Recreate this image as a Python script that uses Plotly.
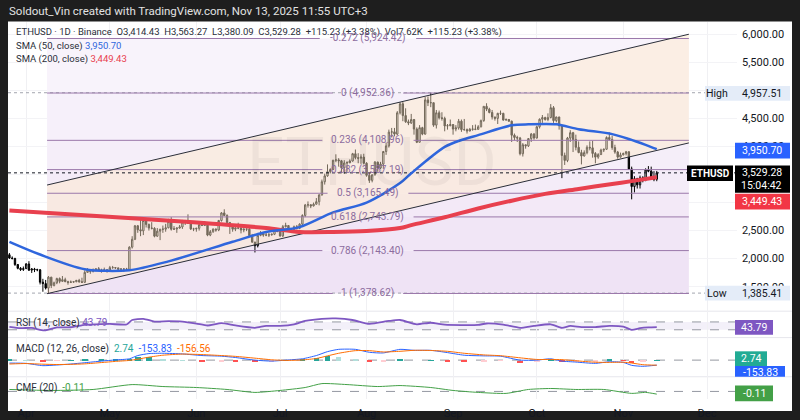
import plotly.graph_objects as go
import pandas as pd

W, H = 800, 420
def px(x): return x / W
def py(y): return 1 - y / H

# ---------------- data ----------------
dates = pd.date_range("2025-03-26", "2025-11-13", freq="D")
opens = [2070, 2010, 2003, 1895, 1827, 1805,
         1822, 1905, 1795, 1815, 1805, 1800, 1580, 1555, 1475, 1670, 1520, 1570, 1645, 1595, 1625, 1590, 1577, 1583, 1588, 1613, 1587, 1578, 1755, 1795, 1770, 1785, 1820, 1792, 1799, 1800,
         1795, 1840, 1840, 1835, 1810, 1815, 1815, 1810, 2205, 2345, 2585, 2515, 2495, 2680, 2610, 2545, 2540, 2400, 2490, 2525, 2525, 2550, 2660, 2525, 2530, 2545, 2565, 2655, 2680, 2630, 2530,
         2530, 2540, 2605, 2590, 2610, 2420, 2480, 2525, 2510, 2680, 2815, 2770, 2645, 2580, 2525, 2545, 2545, 2510, 2525, 2525, 2410, 2295, 2230, 2415, 2445, 2420, 2420, 2425, 2435, 2500,
         2485, 2405, 2570, 2590, 2505, 2515, 2570, 2540, 2615, 2770, 2955, 2960, 2940, 2970, 3015, 3135, 3370, 3475, 3550, 3590, 3755, 3760, 3745, 3620, 3705, 3710, 3740, 3870, 3800, 3790, 3810,
         3700, 3485, 3395, 3495, 3720, 3615, 3685, 3910, 4010, 4255, 4260, 4220, 4600, 4760, 4550, 4440, 4420, 4480, 4310, 4075, 4335, 4220, 4830, 4780, 4780, 4380, 4600, 4510, 4500, 4365, 4370,
         4390, 4310, 4330, 4450, 4300, 4300, 4275, 4305, 4310, 4305, 4350, 4460, 4715, 4665, 4605, 4525, 4500, 4590, 4590, 4470, 4480, 4450, 4200, 4160, 4150, 3870, 4030, 4010, 4140, 4220,
         4150, 4350, 4485, 4515, 4480, 4515, 4690, 4460, 4525, 4370, 3840, 3750, 4150, 4245, 4125, 3985, 3890, 3830, 3890, 3985, 3975, 3875, 3810, 3855, 3935, 3950, 4160, 4125, 3980, 3900, 3810,
         3850, 3875, 3905, 3600, 3285, 3425, 3315, 3440, 3400, 3580, 3560, 3420, 3414.43]
highs = [2100, 2040, 2015, 1905, 1850, 1860,
         1920, 1955, 1830, 1835, 1820, 1815, 1640, 1620, 1690, 1675, 1590, 1660, 1665, 1690, 1660, 1605, 1610, 1600, 1620, 1640, 1660, 1790, 1830, 1800, 1825, 1830, 1850, 1820, 1840, 1810,
         1870, 1870, 1845, 1840, 1830, 1825, 1835, 2220, 2400, 2600, 2600, 2740, 2730, 2720, 2625, 2650, 2560, 2545, 2530, 2590, 2620, 2710, 2740, 2580, 2555, 2600, 2690, 2690, 2790, 2660, 2550,
         2550, 2610, 2660, 2670, 2640, 2510, 2540, 2540, 2690, 2830, 2880, 2790, 2650, 2590, 2560, 2640, 2570, 2540, 2540, 2545, 2440, 2300, 2420, 2490, 2460, 2480, 2460, 2445, 2510, 2525,
         2500, 2600, 2640, 2595, 2530, 2590, 2600, 2630, 2790, 2975, 3020, 2970, 3000, 3080, 3150, 3410, 3515, 3680, 3610, 3760, 3860, 3790, 3760, 3755, 3735, 3770, 3885, 3945, 3880, 3860, 3870,
         3720, 3530, 3500, 3740, 3730, 3725, 3920, 4070, 4300, 4330, 4330, 4630, 4790, 4790, 4680, 4480, 4580, 4490, 4340, 4380, 4350, 4880, 4890, 4957.51, 4780, 4650, 4640, 4610, 4530, 4400, 4480,
         4400, 4380, 4490, 4480, 4490, 4320, 4330, 4380, 4390, 4380, 4480, 4720, 4770, 4690, 4650, 4530, 4600, 4640, 4600, 4500, 4490, 4460, 4230, 4190, 4170, 4060, 4030, 4150, 4240, 4240,
         4370, 4500, 4560, 4530, 4590, 4755, 4720, 4530, 4530, 4390, 3890, 4170, 4290, 4260, 4210, 4090, 3940, 3930, 4020, 4090, 4100, 3900, 3880, 3960, 3960, 4180, 4250, 4190, 4030, 3920, 3890,
         3890, 3920, 3915, 3640, 3470, 3440, 3480, 3470, 3610, 3650, 3640, 3560, 3563.27]
lows = [1995, 1985, 1870, 1810, 1780, 1780,
        1815, 1780, 1745, 1760, 1775, 1540, 1410, 1450, 1385.41, 1475, 1505, 1545, 1560, 1590, 1580, 1535, 1565, 1570, 1580, 1570, 1565, 1570, 1750, 1730, 1755, 1780, 1780, 1750, 1780, 1750,
        1790, 1820, 1815, 1800, 1775, 1765, 1780, 1805, 2180, 2330, 2460, 2400, 2420, 2555, 2500, 2520, 2380, 2390, 2330, 2460, 2480, 2540, 2500, 2510, 2460, 2535, 2530, 2600, 2620, 2510, 2490,
        2480, 2500, 2585, 2590, 2400, 2400, 2460, 2480, 2490, 2660, 2760, 2620, 2440, 2480, 2490, 2525, 2450, 2470, 2490, 2390, 2280, 2110, 2200, 2400, 2390, 2400, 2385, 2410, 2420, 2470,
        2390, 2385, 2555, 2480, 2490, 2500, 2520, 2525, 2600, 2740, 2910, 2900, 2930, 2965, 2950, 3125, 3320, 3460, 3520, 3580, 3720, 3640, 3520, 3510, 3550, 3700, 3730, 3770, 3700, 3690, 3680,
        3460, 3350, 3360, 3480, 3550, 3595, 3600, 3850, 3980, 4160, 4180, 4200, 4570, 4450, 4420, 4380, 4400, 4210, 4060, 4070, 4200, 4210, 4720, 4700, 4350, 4320, 4480, 4460, 4270, 4300, 4360,
        4210, 4270, 4300, 4260, 4280, 4230, 4270, 4280, 4290, 4300, 4340, 4440, 4630, 4590, 4480, 4460, 4400, 4560, 4460, 4460, 4440, 4080, 4110, 4080, 3840, 3820, 3960, 3990, 4080, 4120,
        4140, 4320, 4420, 4460, 4450, 4500, 4420, 4430, 4300, 3435, 3670, 3720, 4080, 3900, 3930, 3880, 3680, 3820, 3860, 3930, 3800, 3700, 3780, 3850, 3900, 3940, 4110, 3940, 3870, 3780, 3800,
        3840, 3840, 3580, 3057, 3180, 3250, 3250, 3360, 3380, 3540, 3410, 3380, 3380.09]
closes = [2010, 2003, 1895, 1827, 1805, 1822,
          1905, 1795, 1815, 1805, 1800, 1580, 1555, 1475, 1670, 1520, 1570, 1645, 1595, 1625, 1590, 1577, 1583, 1588, 1613, 1587, 1578, 1755, 1795, 1770, 1785, 1820, 1792, 1799, 1800, 1795,
          1840, 1840, 1835, 1810, 1815, 1815, 1810, 2205, 2345, 2585, 2515, 2495, 2680, 2610, 2545, 2540, 2400, 2490, 2525, 2525, 2550, 2660, 2525, 2530, 2545, 2565, 2655, 2680, 2630, 2530, 2530,
          2540, 2605, 2590, 2610, 2420, 2480, 2525, 2510, 2680, 2815, 2770, 2645, 2580, 2525, 2545, 2545, 2510, 2525, 2525, 2410, 2295, 2230, 2415, 2445, 2420, 2420, 2425, 2435, 2500, 2485,
          2405, 2570, 2590, 2505, 2515, 2570, 2540, 2615, 2770, 2955, 2960, 2940, 2970, 3015, 3135, 3370, 3475, 3550, 3590, 3755, 3760, 3745, 3620, 3705, 3710, 3740, 3870, 3800, 3790, 3810, 3700,
          3485, 3395, 3495, 3720, 3615, 3685, 3910, 4010, 4255, 4260, 4220, 4600, 4760, 4550, 4440, 4420, 4480, 4310, 4075, 4335, 4220, 4830, 4780, 4780, 4380, 4600, 4510, 4500, 4365, 4370, 4390,
          4310, 4330, 4450, 4300, 4300, 4275, 4305, 4310, 4305, 4350, 4460, 4715, 4665, 4605, 4525, 4500, 4590, 4590, 4470, 4480, 4450, 4200, 4160, 4150, 3870, 4030, 4010, 4140, 4220, 4150,
          4350, 4485, 4515, 4480, 4515, 4690, 4460, 4525, 4370, 3840, 3750, 4150, 4245, 4125, 3985, 3890, 3830, 3890, 3985, 3975, 3875, 3810, 3855, 3935, 3950, 4160, 4125, 3980, 3900, 3810, 3850,
          3875, 3905, 3600, 3285, 3425, 3315, 3440, 3400, 3580, 3560, 3420, 3414.43, 3529.28]

sma50_dates = ["2025-03-26", "2025-04-06", "2025-04-22", "2025-05-08", "2025-05-22", "2025-06-14", "2025-06-26",
               "2025-07-08", "2025-07-20", "2025-08-01", "2025-08-13", "2025-08-17", "2025-08-29", "2025-09-04",
               "2025-09-10", "2025-09-22", "2025-09-28", "2025-10-08", "2025-10-16", "2025-10-28", "2025-11-03",
               "2025-11-09", "2025-11-13"]
sma50_vals = [2300, 2073, 1812, 1794, 1951, 2300, 2475, 2562, 2824, 2998, 3347, 3522, 3993, 4115, 4202, 4377,
              4394, 4394, 4307, 4220, 4133, 4028, 3950.70]
sma200_dates = ["2025-03-26", "2025-05-09", "2025-05-31", "2025-06-26", "2025-07-08", "2025-07-20", "2025-08-01",
                "2025-08-13", "2025-08-17", "2025-08-29", "2025-09-10", "2025-09-22", "2025-10-04", "2025-10-16",
                "2025-10-28", "2025-11-04", "2025-11-13"]
sma200_vals = [2859, 2719, 2649, 2545, 2475, 2475, 2492, 2545, 2597, 2737, 2894, 3033, 3155, 3243, 3330, 3382, 3449.43]

fib_levels = ["-0.272", "0", "0.236", "0.382", "0.5", "0.618", "0.786", "1"]
fib_prices = [5924.42, 4952.36, 4108.96, 3587.19, 3165.49, 2743.79, 2143.40, 1378.62]
fib_start, fib_end = "2025-04-08 12:00", "2025-11-24 12:00"
channel_upper = [3312, 6000]
channel_lower = [1375, 4063]

rsi_dates = ["2025-03-26", "2025-03-30", "2025-04-03", "2025-04-06", "2025-04-08", "2025-04-12", "2025-04-17",
             "2025-04-22", "2025-04-26", "2025-05-01", "2025-05-07", "2025-05-09", "2025-05-13", "2025-05-17",
             "2025-05-22", "2025-05-27", "2025-06-01", "2025-06-05", "2025-06-10", "2025-06-15", "2025-06-22",
             "2025-06-26", "2025-07-01", "2025-07-06", "2025-07-10", "2025-07-16", "2025-07-21", "2025-07-27",
             "2025-08-02", "2025-08-09", "2025-08-13", "2025-08-19", "2025-08-24", "2025-08-29", "2025-09-04",
             "2025-09-10", "2025-09-13", "2025-09-19", "2025-09-25", "2025-09-30", "2025-10-06", "2025-10-10",
             "2025-10-13", "2025-10-17", "2025-10-22", "2025-10-27", "2025-11-01", "2025-11-04", "2025-11-07",
             "2025-11-10", "2025-11-13"]
rsi_vals = [45, 38, 40, 30, 27, 42, 43, 55, 58, 60, 57, 80, 86, 72, 74, 72, 62, 52, 64, 52, 40, 50, 50, 58, 75,
            86, 88, 80, 60, 75, 80, 58, 66, 56, 54, 55, 62, 56, 40, 50, 58, 40, 50, 44, 44, 50, 46, 30, 38, 42, 43.79]

macd_dates = ["2025-03-26", "2025-04-01", "2025-04-07", "2025-04-12", "2025-04-17", "2025-04-22", "2025-04-28",
              "2025-05-03", "2025-05-08", "2025-05-11", "2025-05-15", "2025-05-20", "2025-05-27", "2025-06-03",
              "2025-06-10", "2025-06-15", "2025-06-22", "2025-06-28", "2025-07-03", "2025-07-09", "2025-07-14",
              "2025-07-18", "2025-07-22", "2025-07-28", "2025-08-02", "2025-08-07", "2025-08-13", "2025-08-18",
              "2025-08-24", "2025-08-30", "2025-09-05", "2025-09-12", "2025-09-18", "2025-09-25", "2025-10-01",
              "2025-10-06", "2025-10-10", "2025-10-15", "2025-10-22", "2025-10-27", "2025-11-01", "2025-11-04",
              "2025-11-08", "2025-11-13"]
macd_vals = [-90, -100, -170, -150, -120, -80, -30, 5, 40, 140, 200, 210, 190, 140, 120, 80, 0, -30, 0, 40,
             140, 260, 330, 330, 240, 220, 330, 300, 300, 230, 150, 130, 120, 0, 0, 40, -30, -60, -100, -50,
             -70, -160, -190, -153.83]
signal_vals = [-120, -105, -125, -135, -130, -115, -75, -40, -10, 30, 90, 150, 185, 170, 140, 115, 60, 10, -10, 5,
               50, 130, 210, 290, 290, 250, 270, 300, 295, 270, 210, 160, 135, 70, 20, 20, 15, -20, -65, -70,
               -65, -90, -140, -156.56]

cmf_dates = ["2025-03-26", "2025-04-10", "2025-04-25", "2025-05-09", "2025-05-20", "2025-06-01", "2025-06-12",
             "2025-06-22", "2025-07-01", "2025-07-10", "2025-07-16", "2025-07-25", "2025-08-05", "2025-08-13",
             "2025-08-24", "2025-09-01", "2025-09-10", "2025-09-20", "2025-09-28", "2025-10-06", "2025-10-15",
             "2025-10-25", "2025-11-04", "2025-11-09", "2025-11-13"]
cmf_vals = [0.08, 0.04, 0.08, 0.28, 0.2, 0.16, 0.08, -0.04, 0.04, 0.16, 0.32, 0.28, 0.2, 0.24, 0.16, 0.04,
            -0.04, -0.08, 0.08, 0.12, 0.08, 0.08, -0.08, -0.04, -0.11]

month_ticks = ["2025-04-01", "2025-05-01", "2025-06-01", "2025-07-01", "2025-08-01", "2025-09-01",
               "2025-10-01", "2025-11-01", "2025-12-01"]
month_labels = ["Apr", "May", "Jun", "Jul", "Aug", "Sep", "Oct", "Nov", "Dec"]
price_ticks = [1500, 2000, 2500, 3000, 3500, 4000, 4500, 5000, 5500, 6000]

assert len(dates) == len(opens) == len(highs) == len(lows) == len(closes)

# ---------------- figure ----------------
FONT = "Roboto"
DARK = "#131722"
X0, X1 = "2025-03-25 12:00", "2025-12-11 18:00"
fig = go.Figure()

# channel fill
fig.add_trace(go.Scatter(x=[fib_start, fib_end, fib_end, fib_start, fib_start],
                         y=[channel_upper[0], channel_upper[1], channel_lower[1], channel_lower[0], channel_upper[0]],
                         fill="toself", fillcolor="rgba(255,232,200,0.45)", line=dict(width=0),
                         mode="lines", hoverinfo="skip", showlegend=False))
# high / low / last dotted lines
for val, col in [(4957.51, "#a3a6af"), (1385.41, "#a3a6af"), (3529.28, "#131722")]:
    fig.add_trace(go.Scatter(x=[X0, X1], y=[val, val], mode="lines",
                             line=dict(color=col, width=1, dash="dot"), hoverinfo="skip", showlegend=False))
# fib level lines with gap for label
t0, t1 = pd.Timestamp(fib_start), pd.Timestamp(fib_end)
center = t0 + (t1 - t0) / 2
fx, fy = [], []
fib_texts = []
for lv, pr in zip(fib_levels, fib_prices):
    txt = f"{lv} ({pr:,.2f})"
    fib_texts.append(txt)
    half = pd.Timedelta(days=(len(txt) * 5.2 / 2 + 4) / 2.79)
    fx += [t0, center - half, None, center + half, t1, None]
    fy += [pr, pr, None, pr, pr, None]
fig.add_trace(go.Scatter(x=fx, y=fy, mode="lines", line=dict(color="#9a78aa", width=1),
                         hoverinfo="skip", showlegend=False, connectgaps=False))
# channel border lines
for pair in (channel_upper, channel_lower):
    fig.add_trace(go.Scatter(x=[fib_start, fib_end], y=pair, mode="lines",
                             line=dict(color="#2a2e39", width=1), hoverinfo="skip", showlegend=False))
# SMAs
fig.add_trace(go.Scatter(x=sma200_dates, y=sma200_vals, mode="lines", line=dict(color="#e8404e", width=4, shape="spline", smoothing=0.8),
                         hoverinfo="skip", showlegend=False))
fig.add_trace(go.Scatter(x=sma50_dates, y=sma50_vals, mode="lines", line=dict(color="#2f66dd", width=2.5, shape="spline", smoothing=0.8),
                         hoverinfo="skip", showlegend=False))
# candles
fig.add_trace(go.Candlestick(x=dates, open=opens, high=highs, low=lows, close=closes,
                             increasing=dict(line=dict(color="#000000", width=1), fillcolor="#ffffff"),
                             decreasing=dict(line=dict(color="#000000", width=1), fillcolor="#000000"),
                             whiskerwidth=0, hoverinfo="skip", showlegend=False))

# RSI
fig.add_trace(go.Scatter(x=rsi_dates, y=rsi_vals, xaxis="x2", yaxis="y2", mode="lines",
                         line=dict(color="#7e57c2", width=1.8, shape="spline", smoothing=0.6),
                         hoverinfo="skip", showlegend=False))
# MACD
hist = [m - s for m, s in zip(macd_vals, signal_vals)]
hcol = []
for i, h in enumerate(hist):
    prev = hist[i - 1] if i else h
    if h >= 0:
        hcol.append("#26a69a" if h >= prev else "#b2dfdb")
    else:
        hcol.append("#ff5252" if h <= prev else "#ffcdd2")
fig.add_trace(go.Bar(x=macd_dates, y=hist, xaxis="x3", yaxis="y3", marker=dict(color=hcol, line=dict(width=0)),
                     width=2 * 86400000, hoverinfo="skip", showlegend=False))
fig.add_trace(go.Scatter(x=macd_dates, y=macd_vals, xaxis="x3", yaxis="y3", mode="lines",
                         line=dict(color="#2962ff", width=1, shape="spline", smoothing=0.6), hoverinfo="skip", showlegend=False))
fig.add_trace(go.Scatter(x=macd_dates, y=signal_vals, xaxis="x3", yaxis="y3", mode="lines",
                         line=dict(color="#ff6d00", width=1, shape="spline", smoothing=0.6), hoverinfo="skip", showlegend=False))
# CMF
fig.add_trace(go.Scatter(x=cmf_dates, y=cmf_vals, xaxis="x4", yaxis="y4", mode="lines",
                         line=dict(color="#43a047", width=1, shape="spline", smoothing=0.6), hoverinfo="skip", showlegend=False))

# ---------------- shapes ----------------
shapes = []
shapes.append(dict(type="rect", xref="paper", yref="paper", x0=px(8), x1=px(792), y0=0, y1=py(22),
                   fillcolor="#ffffff", line=dict(width=0), layer="below"))
fib_fills = ["#f8f3fb", "#f6f0fa", "#f5eef9", "#f4ecf8", "#f3e9f7", "#f1e6f6", "#efe3f5"]
for i, c in enumerate(fib_fills):
    shapes.append(dict(type="rect", xref="x", yref="y", x0=fib_start, x1=fib_end,
                       y0=fib_prices[i + 1], y1=fib_prices[i], fillcolor=c, line=dict(width=0), layer="between"))
for yy in (318, 345, 385):
    shapes.append(dict(type="line", xref="paper", yref="paper", x0=px(8), x1=px(792), y0=py(yy), y1=py(yy),
                       line=dict(color="#e6e6ec", width=1), layer="between"))
shapes.append(dict(type="rect", xref="paper", yref="y2", x0=px(8), x1=px(737), y0=30, y1=70,
                   fillcolor="rgba(126,87,194,0.09)", line=dict(width=0), layer="between"))
for ref, v in (("y2", 70), ("y2", 30), ("y3", 0), ("y4", 0)):
    shapes.append(dict(type="line", xref="paper", yref=ref, x0=px(8), x1=px(737), y0=v, y1=v,
                       line=dict(color="#9598a1", width=1, dash="dash"), layer="between"))
# right-side value boxes
boxes = [(705, 790, 88, 103, "#e4ecf8"), (735, 790, 146, 162, "#2962ff"), (687, 733, 169, 185, "#000000"),
         (735, 790, 169, 197, "#000000"), (735, 790, 198, 214, "#f23645"), (705, 790, 292, 307, "#e4ecf8"),
         (735, 773, 327, 342, "#7e57c2"), (735, 785, 374, 385, "#2962ff"), (735, 767, 359, 374, "#22ab94"),
         (735, 773, 394, 410, "#43a047")]
for x0, x1, y0, y1, c in boxes:
    shapes.append(dict(type="rect", xref="paper", yref="paper", x0=px(x0), x1=px(x1), y0=py(y1), y1=py(y0),
                       fillcolor=c, line=dict(width=0), layer="above"))

# ---------------- annotations ----------------
ann = []
def text(x, y, s, size=10, color=DARK, anchor="left", ref=("paper", "paper"), family=FONT, **kw):
    d = dict(x=x, y=y, xref=ref[0], yref=ref[1], text=s, showarrow=False, xanchor=anchor, yanchor="middle",
             font=dict(family=family, size=size, color=color))
    d.update(kw)
    ann.append(d)

NB = "\u00a0"
text(px(7), py(11), "Soldout_Vin created with TradingView.com, Nov 13, 2025 11:55 UTC+3", size=11.5, color="#e2e2e2")
text(px(14), py(33), f"ETHUSD · 1D · Binance{NB*2}O3,414.43{NB*2}H3,563.27{NB*2}L3,380.09{NB*2}C3,529.28{NB*2}+115.23 (+3.38%){NB*2}Vol7.62K{NB*2}+115.23 (+3.38%)",
     size=9.5, color="#2a2e39")
text(px(14), py(47), f"SMA (50, close){NB}<span style='color:#2f66dd'>3,950.70</span>", size=9.5, color="#2a2e39")
text(px(14), py(60), f"SMA (200, close){NB}<span style='color:#e8404e'>3,449.43</span>", size=9.5, color="#2a2e39")
# watermark
text(px(372), py(166), "ETHUSD", size=66, color="rgba(0,0,0,0.045)", anchor="center")
# fib labels
for txt, pr in zip(fib_texts, fib_prices):
    text(center, pr, txt, size=10, color="#8c6c9e", anchor="center", ref=("x", "y"))
# right axis texts
text(px(717), py(95.5), "High", size=10.5, anchor="center")
text(px(784), py(95.5), "4,957.51", size=10.5, anchor="right")
text(px(784), py(154), "3,950.70", size=10.5, color="#ffffff", anchor="right")
text(px(710), py(177), "<b>ETHUSD</b>", size=10, color="#ffffff", anchor="center")
text(px(784), py(176.5), "3,529.28", size=10.5, color="#ffffff", anchor="right")
text(px(784), py(190), "15:04:42", size=10.5, color="#ffffff", anchor="right")
text(px(784), py(206), "3,449.43", size=10.5, color="#ffffff", anchor="right")
text(px(717), py(300), "Low", size=10.5, anchor="center")
text(px(784), py(300), "1,385.41", size=10.5, anchor="right")
text(px(754), py(334.5), "43.79", size=10.5, color="#ffffff", anchor="center")
text(px(780), py(381), "-153.83", size=10.5, color="#ffffff", anchor="right")
text(px(751), py(366.5), "2.74", size=10.5, color="#ffffff", anchor="center")
text(px(754), py(402), "-0.11", size=10.5, color="#ffffff", anchor="center")
# pane labels
text(px(14), py(330), f"RSI (14, close){NB}<span style='color:#7e57c2'>43.79</span>", size=10, color="#2a2e39")
text(px(14), py(357), f"MACD (12, 26, close){NB*2}<span style='color:#26a69a'>2.74</span>{NB*2}<span style='color:#2962ff'>-153.83</span>{NB*2}<span style='color:#ff6d00'>-156.56</span>",
     size=10, color="#2a2e39")
text(px(14), py(397), f"CMF (20){NB*2}<span style='color:#43a047'>-0.11</span>", size=10, color="#2a2e39")

# ---------------- layout ----------------
xcommon = dict(type="date", range=[X0, X1], domain=[px(8), px(737)], showgrid=True, gridcolor="#f0f0f3",
               tickvals=month_ticks, ticktext=month_labels, showticklabels=False, zeroline=False,
               showline=False, ticks="", fixedrange=True)
ynone = dict(showgrid=False, zeroline=False, showticklabels=False, ticks="", showline=False, fixedrange=True)
fig.update_layout(
    width=W, height=H, margin=dict(l=0, r=0, t=0, b=0),
    paper_bgcolor="#1e1e1e", plot_bgcolor="rgba(0,0,0,0)",
    showlegend=False, bargap=0,
    font=dict(family=FONT, color=DARK),
    xaxis=dict(xcommon, anchor="y", rangeslider=dict(visible=False)),
    xaxis2=dict(xcommon, anchor="y2", matches="x"),
    xaxis3=dict(xcommon, anchor="y3", matches="x"),
    xaxis4=dict(xcommon, anchor="y4", matches="x", showticklabels=True,
                tickfont=dict(family=FONT, size=11, color=DARK), ticklabelstandoff=6),
    yaxis=dict(domain=[py(318), py(22)], range=[1063.2, 6226.8], side="right", anchor="x",
               tickvals=price_ticks, ticktext=[f"{v:,.2f}" for v in price_ticks],
               tickfont=dict(family=FONT, size=11, color=DARK), ticklabelstandoff=4,
               showgrid=True, gridcolor="#f3f3f6", zeroline=False, ticks="", showline=False, fixedrange=True),
    yaxis2=dict(ynone, domain=[py(345), py(318)], range=[-10, 125], anchor="x2"),
    yaxis3=dict(ynone, domain=[py(385), py(345)], range=[-510, 690], anchor="x3"),
    yaxis4=dict(ynone, domain=[py(408), py(385)], range=[-0.32, 0.6], anchor="x4"),
    shapes=shapes, annotations=ann,
)
fig.write_html("out.html")
